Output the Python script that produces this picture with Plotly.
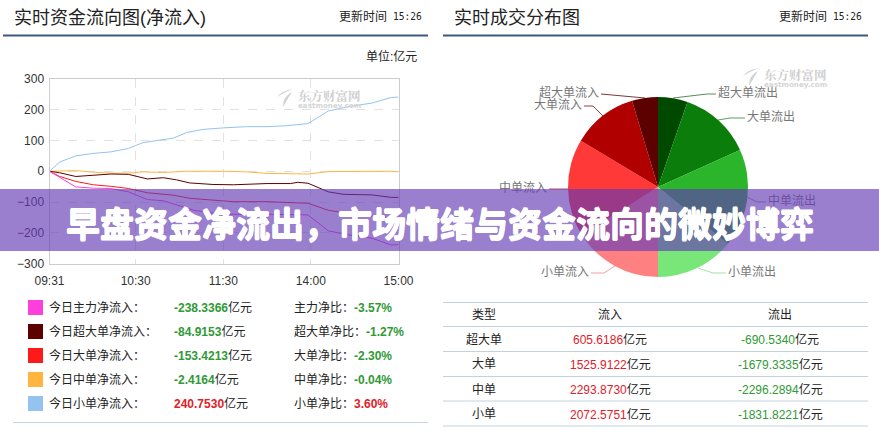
import plotly.graph_objects as go

# ---------- data ----------
tick_minutes = [0, 59, 119, 179, 239]
tick_labels = ["09:31", "10:30", "11:30", "14:00", "15:00"]
y_ticks = [300, 200, 100, 0, -100, -200, -300]

small_x = [0, 7, 18, 30, 42, 54, 64, 73, 85, 94, 105, 119, 135, 149, 162, 177, 191, 206, 221, 234, 239]
small_y = [0, 30, 50, 58, 63, 74, 93, 100, 108, 126, 136, 141, 145, 145, 148, 155, 196, 211, 222, 240, 241]
medium_x = [0, 7, 18, 30, 42, 54, 64, 78, 94, 119, 135, 149, 165, 177, 191, 206, 234, 239]
medium_y = [0, 0, 2, -3, -6, -6, -2, -4, 0, 0, -2, -7, -7, -9, -1, 0, 0, -2]
xlarge_x = [0, 7, 18, 30, 42, 54, 67, 78, 87, 96, 112, 126, 149, 165, 170, 177, 191, 201, 221, 234, 239]
xlarge_y = [0, -5, -17, -12, -9, -10, -25, -21, -28, -38, -43, -44, -40, -40, -36, -39, -67, -75, -77, -85, -85]
large_x = [0, 7, 18, 30, 42, 54, 67, 85, 96, 112, 126, 149, 177, 191, 206, 221, 239]
large_y = [0, -17, -33, -44, -49, -56, -70, -78, -88, -94, -99, -99, -104, -127, -138, -146, -153]
main_x = [0, 7, 18, 30, 42, 54, 67, 78, 87, 99, 112, 126, 149, 165, 177, 191, 206, 221, 234, 239]
main_y = [0, -20, -51, -55, -56, -67, -92, -96, -110, -127, -136, -140, -140, -140, -142, -194, -208, -218, -240, -238]

pie_labels = ["超大单流出", "大单流出", "中单流出", "小单流出", "小单流入", "中单流入", "大单流入", "超大单流入"]
pie_values = [690.5340, 1679.3335, 2296.2894, 1831.8221, 2072.5751, 2293.8730, 1525.9122, 605.6186]
pie_colors = ["#004a00", "#0a7d0a", "#2ab52a", "#78e678", "#ff8080", "#ff3838", "#b00000", "#5c0000"]

legend_names = ["今日主力净流入：", "今日超大单净流入：", "今日大单净流入：", "今日中单净流入：", "今日小单净流入："]
legend_values = ["-238.3366", "-84.9153", "-153.4213", "-2.4164", "240.7530"]
ratio_names = ["主力净比：", "超大单净比：", "大单净比：", "中单净比：", "小单净比："]
ratio_values = ["-3.57%", "-1.27%", "-2.30%", "-0.04%", "3.60%"]
legend_colors = ["#ff3fdc", "#5c0000", "#ff1a1a", "#ffb53f", "#93c3ee"]

table_types = ["超大单", "大单", "中单", "小单"]
table_in = ["605.6186", "1525.9122", "2293.8730", "2072.5751"]
table_out = ["-690.5340", "-1679.3335", "-2296.2894", "-1831.8221"]

headline = "早盘资金净流出，市场情绪与资金流向的微妙博弈"

# ---------- style ----------
W, H = 879, 441
CJK = "Liberation Sans, Noto Sans CJK SC, sans-serif"
RED, GREEN = "#e0202a", "#2f9a36"

fig = go.Figure()

for xs, ys, color in [
    (small_x, small_y, "#93c3ee"),
    (medium_x, medium_y, "#ffb53f"),
    (xlarge_x, xlarge_y, "#5c0000"),
    (large_x, large_y, "#ff1a1a"),
    (main_x, main_y, "#ff3fdc"),
]:
    fig.add_trace(go.Scatter(x=xs, y=ys, mode="lines", line=dict(color=color, width=1),
                             hoverinfo="skip", showlegend=False, xaxis="x", yaxis="y"))

fig.add_trace(go.Pie(labels=pie_labels, values=pie_values, sort=False, direction="clockwise",
                     rotation=0, marker=dict(colors=pie_colors, line=dict(width=0)),
                     textinfo="none", hoverinfo="label+value", showlegend=False,
                     domain=dict(x=[568 / W, 748 / W], y=[(H - 277) / H, (H - 97) / H])))

# pie call-outs live on a page-pixel helper axis so they sit beneath the banner
callouts = [
    ("超大单流入", [645, 601], [98, 94], "#7a3a3a", "left"),
    ("大单流入", [603, 593, 584], [116, 106, 106], "#a03a3a", "left"),
    ("中单流入", [568, 549], [189, 189], "#c05050", "left"),
    ("小单流入", [615, 604, 591], [266, 273, 273], "#f0a0a0", "left"),
    ("超大单流出", [673, 707, 716], [98, 94, 94], "#5a8a5a", "right"),
    ("大单流出", [718, 730, 745], [120, 118, 118], "#5aa05a", "right"),
    ("中单流出", [747, 757, 766], [197, 202, 202], "#70b070", "right"),
    ("小单流出", [698, 713, 726], [268, 273, 273], "#a8e0a8", "right"),
]
for name, xs, ys, color, side in callouts:
    fig.add_trace(go.Scatter(x=xs, y=ys, mode="lines", line=dict(color=color, width=1),
                             hoverinfo="skip", showlegend=False, xaxis="x2", yaxis="y2"))
    fig.add_trace(go.Scatter(x=[xs[-1] + (-2 if side == "left" else 2)], y=[ys[-1]], mode="text", text=[name],
                             textposition="middle left" if side == "left" else "middle right",
                             textfont=dict(family=CJK, size=12, color="#777777"),
                             hoverinfo="skip", showlegend=False, xaxis="x2", yaxis="y2"))

shapes, ann = [], []


def text(x, y, s, size=12, color="#222222", anchor="left", family=CJK):
    x = x - 1.5 if anchor == "left" else x + 1.5 if anchor == "right" else x
    ann.append(dict(x=x, y=y, xref="x2", yref="y2", text=s, showarrow=False, xanchor=anchor, yanchor="middle",
                    font=dict(family=family, size=size, color=color)))


def hline(x0, x1, y, color, width):
    shapes.append(dict(type="line", xref="x2", yref="y2", x0=x0, x1=x1, y0=y, y1=y, line=dict(color=color, width=width)))


# panel headers
for left, title in [(13, "实时资金流向图(净流入)"), (453, "实时成交分布图")]:
    text(left, 18, title, size=18)
    text(left + 325, 16, "更新时间", size=12)
    text(left + 379, 16, "15:26", size=9.6, family="DejaVu Sans Mono, monospace")
    hline(left - 10, left + 415, 35.5, "#3d5a7d", 2)
text(417, 56, "单位:亿元", size=12, anchor="right")

# watermarks
for x, y in [(297, 96), (763, 75)]:
    text(x, y, "<b>东方财富网</b>", size=12.5, color="#cfcfcf", family="Noto Serif CJK SC, Noto Sans CJK SC")
    text(x, y + 9, "<b>eastmoney.com</b>", size=7.2, color="#d5d5d5", family="DejaVu Sans")
    shapes.append(dict(type="path", xref="x2", yref="y2", layer="below", fillcolor="#d2d2d2", line=dict(width=0),
                       path=f"M {x-4} {y-7} Q {x-16} {y-5} {x-20} {y+1} Q {x-14} {y-3} {x-4} {y-7} Z "
                            f"M {x-5} {y-4} Q {x-14} {y} {x-14} {y+11} Q {x-9} {y+2} {x-5} {y-4} Z"))

# legend rows
for i in range(5):
    y = 307.5 + 24 * i
    shapes.append(dict(type="rect", xref="x2", yref="y2", x0=28, x1=43, y0=y - 7.5, y1=y + 7.5,
                       fillcolor=legend_colors[i], line=dict(width=0)))
    vc = RED if not legend_values[i].startswith("-") else GREEN
    text(48, y, legend_names[i])
    text(173, y, f'<b><span style="color:{vc}">{legend_values[i]}</span></b>亿元')
    text(293, y, f'{ratio_names[i]}<b><span style="color:{vc}">{ratio_values[i]}</span></b>')
hline(13, 428, 422.5, "#c9d6e2", 1)

# right table
for y in [302.5, 326.5, 351.5, 376.5, 401, 426]:
    hline(443, 868, y, "#c3d3de", 1)
text(484, 314.5, "类型", anchor="center")
text(610, 314.5, "流入", anchor="center")
text(780, 314.5, "流出", anchor="center")
for i in range(4):
    y = 339 + 25 * i
    text(484, y, table_types[i], anchor="center")
    text(610, y, f'<span style="color:{RED}">{table_in[i]}</span>亿元', anchor="center")
    text(780, y, f'<span style="color:{GREEN}">{table_out[i]}</span>亿元', anchor="center")

# banner over everything
shapes.append(dict(type="rect", xref="paper", yref="paper", x0=0, x1=1, y0=(H - 251) / H, y1=(H - 189) / H,
                   fillcolor="rgba(101,58,181,0.65)", line=dict(width=0), layer="above"))
ann.append(dict(x=440, y=222, xref="x2", yref="y2", text=f"<b>{headline}</b>", showarrow=False,
                font=dict(family="Noto Sans CJK SC", size=34, color="white",
                          shadow="0.6px 0 0 white, -0.6px 0 0 white, 0 0.6px 0 white, 0 -0.6px 0 white"),
                xanchor="center", yanchor="middle"))

fig.update_layout(
    width=W, height=H, margin=dict(l=0, r=0, t=0, b=0), paper_bgcolor="white", plot_bgcolor="rgba(0,0,0,0)",
    shapes=shapes, annotations=ann, hovermode=False,
    xaxis=dict(domain=[49.5 / W, 398.5 / W], range=[0, 239], tickmode="array", tickvals=tick_minutes, ticktext=tick_labels,
               showgrid=True, gridcolor="#e2e2e2", griddash="dash", gridwidth=1, zeroline=False, showline=True,
               linecolor="#cccccc", mirror=True, ticks="outside", ticklen=6, tickcolor="rgba(0,0,0,0)",
               automargin=False, anchor="y", tickfont=dict(family="Liberation Sans", size=12, color="#333333")),
    yaxis=dict(domain=[(H - 263.5) / H, (H - 79) / H], range=[-300, 300], tickmode="array", tickvals=y_ticks,
               showgrid=True, gridcolor="#e2e2e2", griddash="dash", gridwidth=1, zeroline=False, showline=True,
               linecolor="#cccccc", mirror=True, ticks="outside", ticklen=2, tickcolor="rgba(0,0,0,0)",
               automargin=False, anchor="x", tickfont=dict(family="Liberation Sans", size=12, color="#333333")),
    xaxis2=dict(domain=[0, 1], range=[0, W], visible=False, fixedrange=True, anchor="y2", automargin=False),
    yaxis2=dict(domain=[0, 1], range=[H, 0], visible=False, fixedrange=True, anchor="x2", automargin=False),
)

fig.write_html("out.html", config=dict(displayModeBar=False), post_script="document.body.style.margin='0';")
